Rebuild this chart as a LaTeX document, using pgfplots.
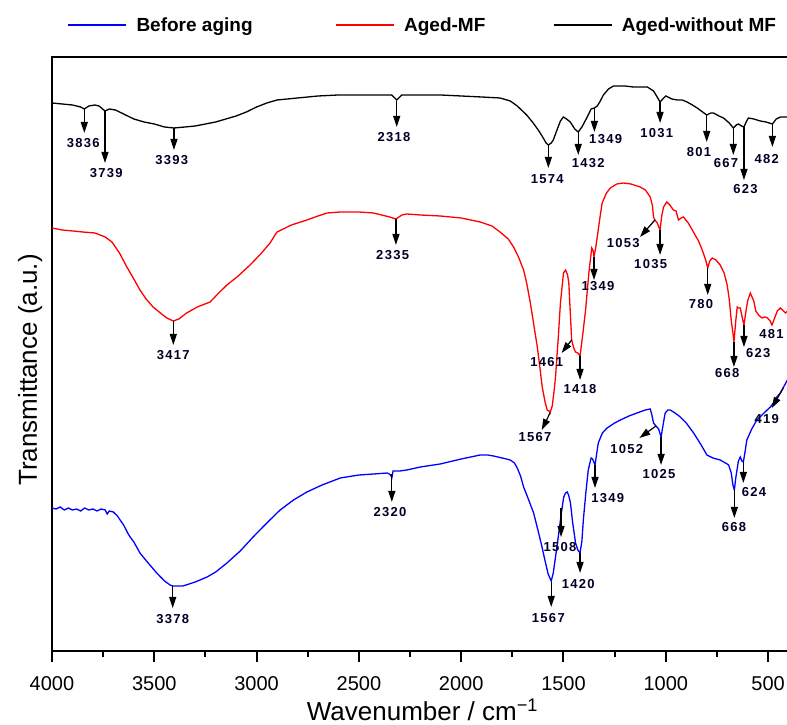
\documentclass[border=0pt]{standalone}
\usepackage{fontspec}
\setmainfont{Liberation Sans}
\newfontfamily\annfont[LetterSpace=10]{Liberation Sans}
\usepackage{pgfplots}
\pgfplotsset{compat=1.18}
\usetikzlibrary{arrows.meta}

% peak annotation: start x,y -- tip x,y ; label x,y ; text
\newcommand{\pk}[7]{%
  \draw[pkarr] (axis cs:#1,#2) -- (axis cs:#3,#4);
  \node[pklab] at (axis cs:#5,#6) {#7};}

\tikzset{
  pkarr/.style={black, line width=1.2pt, -{Triangle[length=11pt,width=7pt]}},
  pklab/.style={font=\annfont\bfseries\fontsize{13}{13}\selectfont, anchor=center, inner sep=0pt, text=black!85!blue},
}

\begin{document}
\begin{tikzpicture}
\begin{axis}[
    width=741pt, height=594pt, scale only axis,
    xmin=378.3, xmax=4000, x dir=reverse,
    ymin=0, ymax=594,
    ytick=\empty,
    xtick={500,1000,...,4000},
    minor x tick num=1,
    xtick pos=left, tick align=outside,
    major tick length=11pt, minor tick length=6pt,
    every tick/.style={line width=2pt, black},
    axis line style={line width=2.5pt},
    /pgf/number format/assume math mode=true,
    /pgf/number format/set thousands separator={},
    xticklabel style={font=\fontsize{20}{20}\selectfont, yshift=-11pt},
    xlabel={Wavenumber / cm\textsuperscript{−1}},
    ylabel={Transmittance (a.u.)},
    label style={font=\fontsize{26}{26}\selectfont},
    xlabel style={at={(axis description cs:0.5,-0.1170)}, anchor=base},
    ylabel style={at={(axis description cs:-0.0204,0.473)}, anchor=base},
    legend columns=3,
    legend style={at={(axis description cs:0.5,1.0539)}, anchor=center, draw=none, fill=none,
      font=\bfseries\fontsize{19}{19}\selectfont,
      /tikz/column 1/.style={column sep=7pt},
      /tikz/column 2/.style={column sep=80pt},
      /tikz/column 3/.style={column sep=7pt},
      /tikz/column 4/.style={column sep=65pt},
      /tikz/column 5/.style={column sep=7pt}},
    legend image code/.code={\draw[#1, line width=2.5pt] (0pt,0pt) -- (58pt,0pt);},
]

\addplot[blue, line width=1.3pt] table {
4000 143
3980 142
3960 144
3940 141
3920 143
3900 141
3880 142
3860 140
3840 143
3820 141
3800 142
3780 140
3760 142
3740 141
3730 137
3720 140
3700 139
3680 135
3667 131
3650 126
3640 122
3630 118
3618 114
3600 109
3570 98
3530 88
3488 78
3450 70
3423 66
3410 65
3360 65
3300 69
3242 74
3200 79
3145 88
3080 100
3017 114
2950 128
2885 141
2820 151
2754 159
2680 166
2591 173
2500 176
2428 177
2360 178
2345 176
2339 173
2333 180
2300 180
2266 181
2200 184
2103 187
2000 192
1907 196
1870 196
1842 195
1800 193
1760 191
1740 188
1726 183
1710 175
1695 164
1670 151
1646 138
1625 121
1605 104
1590 90
1575 77
1560 70
1550 78
1539 94
1525 115
1511 137
1499 154
1490 158
1482 159
1475 156
1466 148
1455 128
1441 108
1430 101
1419 98
1410 110
1403 131
1390 160
1379 181
1365 193
1358 192
1346 186
1338 197
1330 208
1310 218
1287 223
1250 228
1222 231
1180 235
1141 238
1100 241
1076 242
1068 236
1060 228
1048 225
1035 222
1023 214
1010 230
1003 238
990 241
978 241
955 238
929 234
900 228
864 218
830 207
799 196
770 193
734 191
700 187
693 186
680 178
672 166
665 161
658 173
652 181
645 190
636 194
628 190
621 189
612 200
604 211
580 222
555 231
520 238
489 244
470 249
457 254
440 258
432 261
419 266
400 273
};
\addlegendentry{Before aging}

\addplot[red, line width=1.3pt] table {
4000 423
3950 421
3897 420
3850 419
3790 418
3740 414
3707 409
3670 398
3634 384
3600 372
3570 361
3540 352
3506 344
3470 338
3439 333
3407 330
3380 332
3342 338
3290 344
3227 349
3190 357
3145 366
3090 375
3032 386
2980 397
2934 408
2910 416
2900 419
2830 426
2754 431
2700 435
2656 438
2591 439
2500 439
2428 438
2350 434
2319 432
2290 436
2266 437
2200 436
2103 435
2000 433
1907 429
1850 425
1810 419
1770 412
1744 404
1720 394
1695 381
1680 368
1662 348
1645 326
1628 304
1615 283
1604 264
1590 249
1580 241
1570 240
1566 238
1555 245
1545 262
1539 274
1525 315
1515 348
1500 378
1490 381
1480 376
1474 368
1466 335
1460 311
1450 303
1441 299
1430 298
1419 295
1405 318
1392 341
1376 378
1362 403
1355 400
1351 394
1342 404
1335 414
1320 436
1311 448
1290 458
1271 463
1240 467
1207 468
1170 467
1125 464
1100 461
1076 454
1065 445
1060 434
1053 431
1042 428
1028 421
1020 435
1011 444
995 449
980 446
963 441
950 440
938 431
925 433
914 434
890 428
865 419
840 410
822 401
805 391
795 383
785 390
773 393
755 391
734 386
715 378
700 366
690 352
680 330
672 318
667 309
658 330
651 344
645 343
636 343
628 335
618 326
608 340
600 350
587 358
570 350
560 340
547 336
530 333
515 334
503 333
490 330
481 326
470 332
455 340
440 343
425 340
415 338
400 341
};
\addlegendentry{Aged-MF}

\addplot[black, line width=1.3pt] table {
4000 548
3950 547
3900 546
3860 544
3842 542
3820 545
3790 546
3770 545
3741 540
3720 542
3690 541
3650 537
3600 532
3550 529
3500 527
3450 524
3404 523
3350 524
3300 525
3200 529
3100 535
3050 539
3000 544
2950 548
2900 551
2800 553
2700 555
2600 556
2500 556
2400 556
2340 556
2315 551
2290 556
2200 556
2100 556
2000 555
1900 554
1810 553
1760 550
1726 545
1680 536
1648 528
1620 520
1599 513
1585 508
1574 506
1560 508
1550 511
1530 522
1515 530
1501 534
1485 532
1467 529
1445 522
1428 519
1410 524
1384 534
1365 542
1349 543
1335 545
1320 550
1305 556
1280 562
1256 565
1200 565
1158 564
1090 564
1060 560
1045 555
1028 549
1010 553
1000 555
970 552
944 551
920 551
896 549
870 546
847 543
820 539
800 536
780 538
767 538
740 535
718 533
690 528
670 523
655 526
645 527
630 525
618 524
605 530
596 533
570 532
538 530
510 529
479 527
460 532
440 534
400 534
};
\addlegendentry{Aged-without MF}

% Aged-without MF
\pk{3842}{543}{3842}{518}{3847}{508}{3836}
\pk{3741}{540}{3741}{488}{3735}{478}{3739}
\pk{3404}{523}{3404}{501}{3415}{491}{3393}
\pk{2315}{550}{2315}{524}{2328}{514}{2318}
\pk{1574}{506}{1574}{483}{1579}{472}{1574}
\pk{1428}{519}{1428}{496}{1379}{488}{1432}
\pk{1349}{543}{1349}{519}{1294}{512}{1349}
\pk{1028}{549}{1028}{528}{1044}{518}{1031}
\pk{800}{536}{800}{509}{838}{499}{801}
\pk{670}{523}{670}{496}{706}{488}{667}
\pk{618}{524}{618}{471}{610}{462}{623}
\pk{479}{527}{479}{504}{507}{492}{482}
% Aged-MF
\pk{3407}{330}{3407}{306}{3407}{296}{3417}
\pk{2319}{432}{2319}{406}{2335}{396}{2335}
\pk{1566}{238}{1606}{221}{1639}{214}{1567}
\pk{1460}{311}{1509}{298}{1582}{289}{1461}
\pk{1419}{295}{1419}{271}{1419}{262}{1418}
\pk{1351}{394}{1351}{371}{1331}{365}{1349}
\pk{1053}{431}{1126}{414}{1208}{408}{1053}
\pk{1028}{421}{1028}{396}{1074}{387}{1035}
\pk{795}{383}{795}{356}{828}{347}{780}
\pk{667}{309}{667}{284}{700}{278}{668}
\pk{618}{326}{618}{304}{548}{298}{623}
\node[pklab] at (axis cs:483,317) {481};
% Before aging
\pk{3410}{65}{3410}{43}{3410}{32}{3378}
\pk{2339}{177}{2339}{149}{2348}{139}{2320}
\pk{1560}{69}{1560}{44}{1574}{33}{1567}
\pk{1512}{143}{1512}{114}{1517}{104}{1508}
\pk{1419}{98}{1419}{78}{1428}{67}{1420}
\pk{1346}{186}{1346}{163}{1284}{153}{1349}
\pk{1048}{225}{1129}{213}{1191}{202}{1052}
\pk{1023}{214}{1023}{186}{1033}{177}{1025}
\pk{665}{161}{665}{133}{667}{124}{668}
\pk{621}{189}{621}{168}{569}{159}{624}
\pk{426}{263}{482}{243}{507}{232}{419}
\end{axis}
\pgfresetboundingbox
\path[use as bounding box] ([xshift=-52pt,yshift=-74pt]current axis.south west)
  rectangle ([xshift=-6pt,yshift=57pt]current axis.north east);
\end{tikzpicture}
\end{document}
